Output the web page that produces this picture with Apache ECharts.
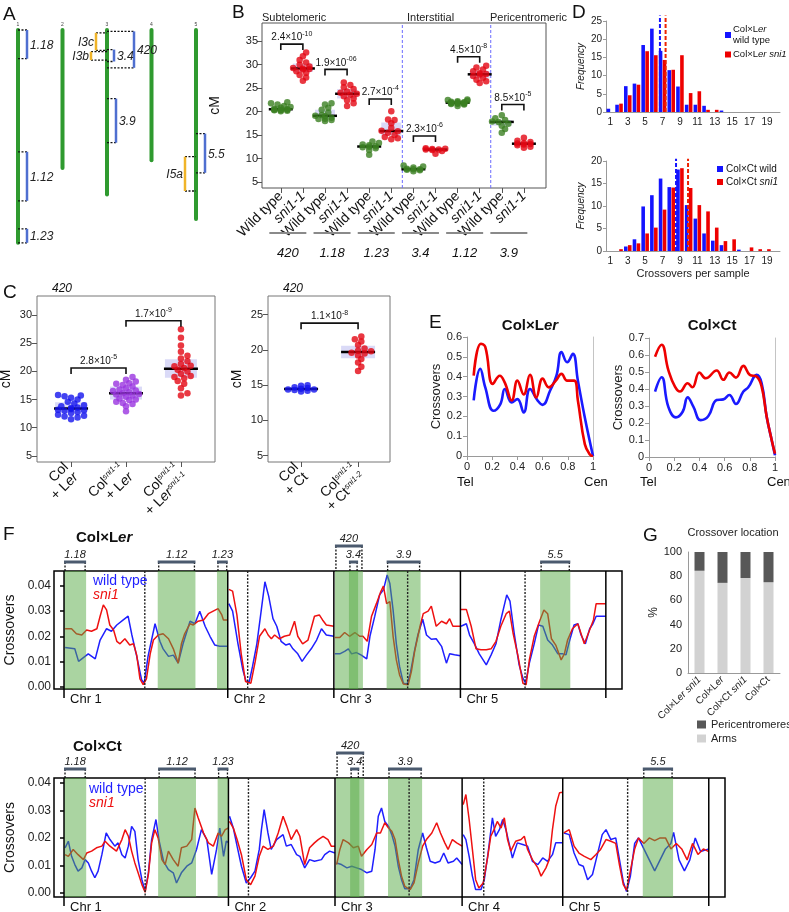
<!DOCTYPE html>
<html>
<head>
<meta charset="utf-8">
<script src="https://cdn.jsdelivr.net/npm/echarts@6.0.0/dist/echarts.min.js"></script>
<style>html,body{margin:0;padding:0;background:#fff;}#chart{width:789px;height:912px;}</style>
</head>
<body>
<div id="chart"></div>
<script>
// ================= DATA =================
const chrNames = ['1','2','3','4','5'];
const chrLengths = [30.4, 19.7, 23.5, 18.6, 27.0];
const centromeres = [15.0, 3.7, 13.7, 4.0, 12.0];
const intervalNames = ['1.18','1.12','1.23','420','3.4','3.9','5.5'];
const intervalChr = [1,1,1,3,3,3,5];
const intervalStart = [0.0,17.4,28.4,0.2,2.8,9.8,14.8];
const intervalEnd = [4.1,24.4,30.4,5.4,4.5,16.1,20.4];
const yellowNames = ['I3c','I3b','I5a'];
const yellowChr = [3,3,5];
const yellowStart = [0.4,3.1,18.1];
const yellowEnd = [2.9,4.3,23.0];

// Panel B
const bSections = ['Subtelomeric','Interstitial','Pericentromeric'];
const bGroupNames = ['420','1.18','1.23','3.4','1.12','3.9'];
const bGenotypes = ['Wild type','sni1-1'];
const bWT420 = [20.1,20.2,20.3,20.3,20.4,20.4,20.4,20.5,20.6,20.8,21.0,21.2,21.5,21.8,22.0];
const bSni420 = [26.6,27.3,27.8,28.3,28.6,29.0,29.1,29.2,29.3,29.6,30.0,30.5,31.0,31.8,32.6];
const bWT118 = [18.0,18.2,18.4,18.5,18.7,19.0,19.1,19.3,19.8,20.4,20.8,21.5,21.8];
const bSni118 = [21.2,21.8,22.4,22.8,23.3,23.6,23.8,24.0,24.3,24.8,25.2,25.7,26.2];
const bWT123 = [10.8,11.8,12.2,12.4,12.5,12.6,12.8,13.0,13.3,13.6];
const bSni123 = [14.1,14.3,14.6,15.0,15.5,15.8,15.9,16.5,17.5,18.2,18.3,20.1];
const bWT34 = [7.3,7.5,7.6,7.7,7.7,7.8,8.1,8.3,8.5];
const bSni34 = [11.0,11.6,11.8,11.9,11.9,12.0,12.1,12.2];
const bWT112 = [21.2,21.5,21.6,21.7,21.7,21.8,21.8,21.9,21.9,22.0,22.0,22.1,22.2,22.3,22.5,22.6];
const bSni112 = [26.1,26.5,26.8,27.2,27.6,27.9,28.0,28.2,28.6,29.0,29.4,29.8];
const bWT39 = [15.5,16.3,17.0,17.4,17.8,17.9,18.2,18.6,19.2];
const bSni39 = [12.3,12.5,12.8,13.0,13.1,13.2,13.3,13.5,13.8,14.4];
const bPairA = [1,3,5,7,9,11];
const bPairB = [2,4,6,8,10,12];
const bBracketY = [34.4,29.0,22.7,14.8,31.7,21.5];
const bPMant = ['2.4','1.9','2.7','2.3','4.5','8.5'];
const bPExp = ['-10','-06','-4','-6','-8','-5'];
const bDividers = [6.5, 10.5];

// Panel C
const cLerLabels = ['{n|Col}\n{n|+ L}{ni|er}','{n|Col}{s|sni1-1}\n{n|+ L}{ni|er}','{n|Col}{s|sni1-1}\n{n|+ L}{ni|er}{s|sni1-1}'];
const cLerWT = [11.5,11.8,12.0,12.1,12.3,12.6,12.8,13.0,13.1,13.2,13.3,13.5,13.6,13.8,14.0,14.3,14.6,15.0,15.3,15.6,15.7,15.8];
const cLerHet = [12.9,13.8,14.2,14.4,14.6,14.9,15.0,15.2,15.5,15.7,15.9,16.0,16.1,16.3,16.5,16.6,16.8,17.0,17.3,17.6,17.8,17.9,18.2,18.5,19.0];
const cLerHom = [15.7,16.1,17.0,17.8,18.3,18.8,19.0,19.2,19.6,20.0,20.3,20.6,20.9,21.0,21.3,21.8,22.3,22.8,23.5,24.6,26.0,27.5];
const cLerPairA = [1,2], cLerPairB = [2,3], cLerBracketY = [20.6,29.0];
const cLerPMant = ['2.8','1.7'], cLerPExp = ['-5','-9'];
const cCtLabels = ['{n|Col}\n{n|+ Ct}','{n|Col}{s|sni1-1}\n{n|+ Ct}{s|sni1-2}'];
const cCtWT = [14.1,14.2,14.3,14.4,14.4,14.5,14.6,14.7,14.9,15.0];
const cCtMut = [17.0,17.6,18.2,18.7,19.2,19.5,19.6,19.8,19.9,20.2,20.7,21.2,21.5,21.9];
const cCtPairA = [1], cCtPairB = [2], cCtBracketY = [23.8];
const cCtPMant = ['1.1'], cCtPExp = ['-8'];

// Panel D
const dBins = ['1','2','3','4','5','6','7','8','9','10','11','12','13','14','15','16','17','18','19','20'];
const dLerWT = [0.9,2.0,7.1,7.8,18.4,22.9,16.8,11.5,7.0,2.0,2.0,1.7,0,0.4,0,0,0,0,0,0];
const dLerSni = [0,2.3,4.6,7.5,16.7,15.6,14.3,11.6,15.6,5.2,5.7,0.6,0.6,0,0,0,0,0,0,0];
const dLerMeans = [6.7, 7.35];
const dCtWT = [0,0,1.0,2.6,9.9,12.4,16.1,14.2,18.1,10.2,7.2,3.9,2.3,1.3,0,0.3,0,0,0,0];
const dCtSni = [0,0.4,1.3,1.7,3.9,5.2,9.2,14.1,18.4,14.0,10.2,8.8,5.2,2.2,2.6,0,0.8,0.4,0.4,0];
const dCtMeans = [8.55, 9.93];

// Panel E
const eLerWT = [[0.053,0.28],[0.105,0.44],[0.145,0.346],[0.21,0.228],[0.265,0.262],[0.30,0.338],[0.355,0.27],[0.40,0.287],[0.45,0.22],[0.50,0.338],[0.56,0.28],[0.60,0.258],[0.66,0.33],[0.71,0.405],[0.75,0.524],[0.795,0.473],[0.84,0.515],[0.88,0.38],[0.935,0.194],[1,0]];
const eLerSni = [[0.053,0.405],[0.11,0.566],[0.145,0.55],[0.205,0.363],[0.26,0.405],[0.30,0.37],[0.355,0.28],[0.40,0.38],[0.45,0.31],[0.50,0.41],[0.55,0.295],[0.60,0.39],[0.65,0.346],[0.705,0.38],[0.75,0.414],[0.795,0.38],[0.85,0.38],[0.88,0.28],[0.935,0.06],[0.975,0.008],[1,0]];
const eCtWT = [[0.048,0.385],[0.10,0.469],[0.153,0.296],[0.214,0.233],[0.267,0.266],[0.307,0.351],[0.352,0.296],[0.41,0.217],[0.47,0.24],[0.537,0.335],[0.59,0.339],[0.638,0.365],[0.69,0.312],[0.749,0.385],[0.788,0.41],[0.854,0.483],[0.894,0.434],[0.934,0.237],[0.974,0.099],[1,0.01]];
const eCtSni = [[0.048,0.59],[0.10,0.66],[0.153,0.513],[0.206,0.414],[0.246,0.385],[0.307,0.434],[0.344,0.41],[0.40,0.497],[0.45,0.463],[0.537,0.509],[0.59,0.454],[0.638,0.497],[0.69,0.467],[0.749,0.536],[0.80,0.483],[0.854,0.473],[0.894,0.414],[0.934,0.237],[0.974,0.099],[1,0.02]];

// Panel F
const fTopChrs = [1,2,3,5];
const fBotChrs = [1,2,3,4,5];
const fLerWT1 = [[0.2,.0155],[2.0,.015],[2.7,.010],[3.9,.012],[4.5,.013],[5.8,.011],[6.7,.0185],[7.9,.023],[8.8,.022],[9.8,.0245],[11.0,.0265],[11.9,.028],[12.6,.0205],[13.5,.012],[14.4,.0027],[14.9,.0013],[15.6,.012],[16.9,.025],[17.8,.018],[18.4,.015],[19.4,.012],[20.3,.0125],[21.2,.0093],[22.1,.017],[23.4,.026],[24.3,.025],[25.2,.030],[26.2,.024],[27.1,.020],[28.0,.0165],[28.9,.016],[30.4,.016]];
const fLerSn1 = [[0.2,.023],[1.4,.023],[2.3,.021],[3.3,.0205],[4.2,.0225],[5.1,.022],[6.1,.023],[6.7,.028],[7.3,.0325],[7.9,.0305],[8.5,.0245],[9.2,.0225],[9.8,.018],[10.4,.017],[11.3,.019],[12.2,.0165],[12.9,.017],[13.5,.0125],[14.1,.003],[14.7,.0007],[15.3,.003],[16.0,.013],[16.6,.0185],[17.5,.0205],[18.4,.021],[19.4,.019],[20.3,.015],[21.2,.0093],[21.8,.017],[22.4,.021],[23.4,.025],[24.0,.0245],[24.9,.026],[25.9,.0265],[26.8,.029],[27.7,.030],[28.6,.031],[29.3,.0285],[29.6,.0265],[30.4,.0265]];
const fLerWT2 = [[0.2,.033],[0.9,.030],[1.9,.017],[2.8,.0066],[3.4,.002],[4.0,.002],[4.6,.008],[5.4,.017],[6.2,.030],[6.9,.0417],[7.6,.036],[8.4,.027],[9.1,.024],[9.9,.018],[10.8,.0165],[11.5,.017],[12.1,.015],[13.0,.013],[13.8,.010],[14.6,.0125],[15.5,.015],[16.5,.0185],[17.4,.023],[18.3,.0205],[19.7,.020]];
const fLerSn2 = [[0.2,.0387],[0.9,.038],[1.7,.0285],[2.5,.013],[3.3,.002],[4.3,.0013],[5.1,.010],[5.9,.020],[6.9,.023],[7.5,.0205],[8.1,.019],[8.7,.0205],[9.6,.019],[10.5,.020],[11.5,.0205],[12.4,.026],[13.0,.020],[13.9,.017],[14.9,.0185],[16.1,.028],[17.0,.0285],[17.6,.0265],[18.3,.0245],[19.7,.024]];
const fLerWT3 = [[0.2,.013],[1.1,.013],[2.0,.014],[2.7,.015],[3.3,.013],[4.2,.0135],[5.1,.0125],[6.1,.011],[6.7,.020],[7.6,.028],[8.5,.0365],[9.2,.0385],[9.9,.0444],[10.4,.041],[11.0,.0305],[11.6,.017],[12.2,.008],[12.9,.0013],[13.6,.001],[14.2,.0053],[15.0,.0145],[15.6,.0205],[16.5,.0268],[17.2,.0205],[18.1,.0188],[19.0,.019],[20.0,.016],[20.9,.0093],[21.5,.013],[22.4,.0126],[23.5,.0122]];
const fLerSn3 = [[0.2,.0195],[1.1,.0195],[2.0,.0215],[2.9,.020],[3.9,.0215],[4.8,.020],[5.4,.020],[6.2,.018],[7.0,.028],[7.9,.033],[8.7,.0377],[9.2,.040],[9.8,.033],[10.4,.0338],[11.0,.020],[11.6,.0106],[12.2,.0046],[12.9,.001],[13.8,.0007],[14.4,.006],[15.0,.014],[16.0,.024],[16.6,.029],[17.5,.030],[18.1,.032],[19.0,.024],[20.0,.026],[20.9,.025],[21.5,.027],[22.1,.024],[23.5,.024]];
const fLerWT5 = [[0.1,.024],[1.1,.025],[1.7,.0205],[2.6,.017],[3.5,.013],[4.8,.0086],[5.7,.0126],[6.6,.017],[7.5,.0265],[8.6,.0365],[9.2,.034],[10.0,.021],[10.9,.0086],[11.6,.0033],[12.1,.0013],[12.8,.0093],[13.7,.017],[14.5,.0245],[15.3,.024],[16.2,.0185],[17.1,.0165],[18.1,.013],[19.0,.013],[19.6,.0126],[20.3,.0185],[21.1,.0245],[21.8,.025],[22.4,.0205],[23.2,.017],[24.0,.023],[24.6,.025],[25.2,.028],[27.0,.028]];
const fLerSn5 = [[0.1,.0307],[1.1,.0307],[2.0,.024],[2.9,.015],[3.8,.0146],[4.8,.0146],[5.7,.015],[6.6,.018],[7.5,.024],[8.5,.029],[9.1,.030],[9.8,.021],[10.7,.012],[11.6,.0013],[12.2,.0007],[12.8,.0106],[13.7,.020],[14.7,.026],[15.5,.0305],[16.2,.029],[16.9,.019],[17.7,.0165],[18.7,.0106],[19.3,.013],[19.9,.0185],[20.8,.023],[21.8,.025],[23.0,.017],[23.9,.022],[24.7,.0265],[25.2,.033],[27.0,.033]];
const fCtWT1 = [[0.2,.0164],[0.8,.0188],[1.4,.0133],[2.0,.0103],[2.6,.0079],[3.3,.0091],[3.9,.0121],[4.5,.0109],[5.1,.0079],[5.7,.0055],[6.3,.0079],[7.0,.0139],[7.8,.0218],[8.5,.0194],[9.4,.017],[10.0,.0182],[10.7,.0139],[11.3,.0127],[11.9,.017],[12.5,.0242],[13.1,.0224],[13.7,.0121],[14.4,.0048],[15.0,.0006],[15.6,.0073],[16.2,.0194],[17.0,.0267],[17.6,.0188],[18.4,.0115],[19.3,.0085],[20.2,.0073],[20.8,.0036],[21.7,.0073],[22.7,.0097],[23.6,.0109],[24.5,.0158],[25.4,.023],[26.4,.0194],[27.3,.0067],[28.2,.0158],[28.8,.0236],[29.5,.0133],[30.0,.0188],[30.4,.0184]];
const fCtSn1 = [[0.2,.0139],[0.8,.0133],[1.7,.0158],[2.6,.0139],[3.6,.0121],[4.2,.0145],[5.1,.0152],[6.0,.0164],[7.0,.017],[7.6,.0188],[8.5,.017],[9.7,.0152],[10.7,.0194],[11.3,.023],[11.9,.0206],[12.5,.0152],[13.1,.0109],[13.7,.0073],[14.4,.003],[15.0,.0002],[15.6,.0067],[16.2,.0182],[16.8,.023],[17.4,.020],[18.1,.0121],[18.7,.0103],[19.3,.0152],[20.2,.0121],[21.1,.0097],[21.7,.0164],[22.7,.017],[23.6,.0194],[24.2,.0309],[24.8,.0273],[25.8,.0218],[26.7,.0182],[27.6,.017],[28.5,.0218],[29.1,.0206],[29.8,.023],[30.4,.0236]];
const fCtWT2 = [[0.2,.0279],[0.9,.0236],[1.6,.017],[2.4,.0097],[3.3,.0036],[4.1,.0055],[4.9,.0079],[5.7,.0158],[6.1,.023],[6.6,.0303],[7.3,.0218],[7.9,.0158],[8.9,.0194],[10.1,.0212],[10.7,.017],[11.6,.0176],[12.6,.0139],[13.2,.0133],[14.1,.0091],[15.0,.0121],[15.9,.0115],[17.2,.0121],[17.8,.0139],[18.7,.0152],[19.7,.0145]];
const fCtSn2 = [[0.2,.026],[0.9,.0236],[1.6,.0194],[2.4,.0139],[3.3,.0048],[4.1,.003],[4.9,.0061],[5.7,.0133],[6.4,.017],[7.3,.0158],[8.3,.017],[9.2,.0218],[10.1,.0279],[10.8,.0242],[11.6,.0194],[12.6,.023],[13.2,.0206],[14.1,.0103],[15.0,.0164],[15.9,.0182],[16.6,.0194],[17.5,.0206],[18.4,.0194],[19.0,.017],[19.7,.017]];
const fCtWT3 = [[0.3,.0109],[1.2,.0103],[2.2,.0091],[3.1,.0097],[4.0,.0091],[4.9,.0085],[5.9,.0073],[6.8,.0079],[7.4,.0158],[8.0,.0279],[8.6,.0309],[9.2,.026],[9.9,.0242],[10.5,.0212],[11.1,.017],[11.7,.0097],[12.3,.0048],[12.9,.0015],[13.9,.0015],[14.6,.0048],[15.4,.0158],[16.2,.0218],[16.9,.0164],[17.6,.0115],[18.5,.0109],[19.4,.0115],[20.1,.0145],[20.9,.0109],[21.9,.0115],[22.5,.0127],[23.5,.0103]];
const fCtSn3 = [[0.3,.0103],[0.9,.0158],[1.5,.0194],[2.5,.0182],[3.4,.0164],[4.3,.017],[4.9,.0133],[5.9,.0158],[6.8,.0176],[7.7,.0218],[8.4,.0218],[9.2,.0255],[9.9,.0236],[10.5,.0224],[11.1,.0194],[11.7,.0121],[12.3,.0061],[12.9,.0024],[13.9,.0012],[14.6,.0036],[15.4,.0109],[16.2,.017],[16.9,.0194],[17.9,.0218],[18.8,.0255],[19.5,.0218],[20.3,.0182],[20.9,.0158],[21.7,.0194],[22.5,.0182],[23.5,.017]];
const fCtWT4 = [[0.2,.0212],[0.7,.0194],[1.3,.0133],[1.9,.0061],[2.5,.0012],[3.5,.0012],[4.1,.0048],[4.8,.0145],[5.6,.0273],[6.2,.0206],[6.9,.023],[7.5,.0267],[8.1,.023],[8.8,.017],[9.3,.0127],[10.2,.0182],[11.2,.0176],[12.1,.017],[13.0,.0115],[14.0,.0103],[14.9,.0127],[15.8,.0115],[16.7,.0139],[17.3,.0182],[18.6,.0182]];
const fCtSn4 = [[0.2,.0321],[0.7,.0358],[1.3,.0267],[1.9,.0158],[2.5,.0048],[3.1,.0018],[3.9,.0036],[4.7,.0127],[5.3,.0206],[5.9,.023],[6.5,.026],[7.2,.0236],[7.8,.0273],[8.4,.0194],[9.0,.0152],[9.9,.0188],[10.9,.0194],[11.5,.0206],[12.1,.0158],[13.0,.0121],[14.0,.0091],[14.6,.0061],[15.5,.0091],[16.1,.0121],[16.7,.023],[17.3,.0315],[18.0,.0364],[18.6,.0366]];
const fCtWT5 = [[0.2,.0218],[1.2,.0212],[2.1,.0145],[3.0,.0103],[3.8,.0097],[4.6,.0048],[5.5,.0067],[6.4,.0139],[7.3,.0212],[8.0,.023],[8.9,.0194],[9.8,.020],[10.5,.012],[11.2,.004],[11.8,.0005],[12.5,.006],[13.3,.018],[14.0,.020],[15.0,.016],[16.0,.012],[17.0,.008],[18.0,.012],[19.0,.016],[20.0,.018],[20.5,.022],[21.5,.012],[22.5,.008],[23.5,.012],[24.5,.020],[25.5,.015],[27.0,.016]];
const fCtSn5 = [[0.2,.0218],[1.2,.023],[2.1,.017],[3.0,.0145],[4.0,.0133],[5.2,.0121],[6.1,.0139],[7.0,.0158],[8.0,.0194],[8.9,.0188],[9.8,.018],[10.5,.010],[11.2,.003],[11.8,.001],[12.5,.008],[13.3,.016],[14.0,.020],[15.0,.018],[16.0,.020],[17.0,.019],[18.0,.020],[19.0,.020],[20.0,.016],[21.0,.018],[22.0,.016],[23.0,.012],[24.0,.018],[25.0,.014],[26.0,.016],[27.0,.015]];

// Panel G
const gCats = ['Col×Ler sni1','Col×Ler','Col×Ct sni1','Col×Ct'];
const gArms = [84.5, 74.5, 78.5, 75.0];
const gPeri = [15.5, 25.5, 21.5, 25.0];

// ================= LAYOUT / HELPERS =================
const FONT = '"Liberation Sans", Arial, Helvetica, sans-serif';
const gA  = {left:18,  top:30,  w:178, h:217, xmin:1, xmax:5, ymin:0, ymax:31};
const gB  = {left:262, top:23,  w:284, h:165, xmin:0.15, xmax:13, ymin:3.7, ymax:38.9};
const gCL = {left:37,  top:296, w:178, h:166, xmin:0.38, xmax:3.62, ymin:3.9, ymax:33.4};
const gCR = {left:268, top:296, w:122, h:166, xmin:0.42, xmax:2.56, ymin:4.1, ymax:27.65};
const gFT = {left:54,  top:571, w:568, h:118, xmin:-1.86, xmax:103.6, ymin:-0.001, ymax:0.046};
const gFB = {left:54,  top:778, w:671, h:119, xmin:-1.85, xmax:122.2, ymin:-0.0015, ymax:0.0418};

function quant(arr,q){const s=[...arr].sort((a,b)=>a-b);const p=(s.length-1)*q;const lo=Math.floor(p),hi=Math.ceil(p);return s[lo]+(s[hi]-s[lo])*(p-lo);}
function swarm(vals,cx,g,d,maxOff){
  const px=g.w/(g.xmax-g.xmin), py=g.h/(g.ymax-g.ymin);
  const s=[...vals].sort((a,b)=>a-b); const placed=[]; const out=[];
  const lim=d*0.7;
  for(const v of s){
    const y=v*py; let best=0, bestCnt=1e9;
    for(let k=0;k<40;k++){
      const cand = k===0?0:((k%2)?1:-1)*Math.ceil(k/2)*d*0.5;
      if(Math.abs(cand)>maxOff) break;
      let cnt=0;
      for(const p of placed){const dx=p[0]-cand,dy=p[1]-y; if(dx*dx+dy*dy<lim*lim)cnt++;}
      if(cnt<bestCnt){bestCnt=cnt;best=cand;}
      if(cnt===0)break;
    }
    placed.push([best,y]); out.push([cx+best/px, v]);
  }
  return out;
}
function chrOffsets(list){const o={};let acc=0;for(const c of list){o[c]=acc;acc+=chrLengths[c-1];}o.end=acc;return o;}
function containsOther(i){return intervalChr.some((c,j)=>j!==i&&c===intervalChr[i]&&intervalStart[j]>=intervalStart[i]&&intervalEnd[j]<=intervalEnd[i]);}
function containedBy(i){return intervalChr.some((c,j)=>j!==i&&c===intervalChr[i]&&intervalStart[i]>=intervalStart[j]&&intervalEnd[i]<=intervalEnd[j]);}
function ital(name){return name.replace('Ler','L{i|er}').replace('sni1','{i|sni1}');}
function txt(x,y,text,size,extra){return {type:'text',x:x,y:y,z:100,silent:true,style:Object.assign({text:text,fontSize:size,fontFamily:FONT,fill:'#111',align:'left',verticalAlign:'top'},extra||{})};}
const supRich = {m:{fontSize:10,fontFamily:FONT,lineHeight:15,fill:'#111'}, s:{fontSize:7,fontFamily:FONT,lineHeight:8,verticalAlign:'top',fill:'#111'}};
function gridOf(g,extra){return Object.assign({left:g.left,top:g.top,width:g.w,height:g.h,outerBoundsMode:'none',containLabel:false},extra||{});}

// ================= SERIES =================
const series = [];
// ---- Panel A ----
series.push({type:'custom',xAxisIndex:0,yAxisIndex:0,clip:false,silent:true,z:3,
  data: chrLengths.map((L,i)=>[i+1,L]),
  renderItem:(p,api)=>{const x=api.value(0),L=api.value(1);const a=api.coord([x,0]),b=api.coord([x,L]);
    return {type:'group',children:[
      {type:'line',shape:{x1:a[0],y1:a[1],x2:b[0],y2:b[1]},style:{stroke:'#2f9a2f',lineWidth:4,lineCap:'round'}},
      {type:'text',x:a[0],y:a[1]-3,style:{text:chrNames[p.dataIndex],fontSize:5,fontFamily:FONT,fill:'#444',align:'center',verticalAlign:'bottom'}}]};}});
series.push({type:'custom',xAxisIndex:0,yAxisIndex:0,clip:false,silent:true,z:4,
  data: intervalNames.map((n,i)=>[intervalChr[i],intervalStart[i]]),
  renderItem:(p,api)=>{const i=p.dataIndex;const c=intervalChr[i];
    const s=api.coord([c,intervalStart[i]]),e=api.coord([c,intervalEnd[i]]);
    const off = containsOther(i)?27:(containedBy(i)?7:9); const bx=s[0]+off;
    const dot={stroke:'#111',lineWidth:1.3,lineDash:[2,1.5]};
    return {type:'group',children:[
      {type:'line',shape:{x1:s[0],y1:s[1],x2:bx,y2:s[1]},style:dot},
      {type:'line',shape:{x1:s[0],y1:e[1],x2:bx,y2:e[1]},style:dot},
      {type:'line',shape:{x1:bx,y1:s[1],x2:bx,y2:e[1]},style:{stroke:'#4f6fd0',lineWidth:2.5}},
      {type:'text',x:bx+3,y:(s[1]+e[1])/2+1,style:{text:intervalNames[i],fontSize:12,fontStyle:'italic',fontFamily:FONT,fill:'#222',align:'left',verticalAlign:'middle'}}]};}});
series.push({type:'custom',xAxisIndex:0,yAxisIndex:0,clip:false,silent:true,z:4,
  data: yellowNames.map((n,i)=>[yellowChr[i],yellowStart[i]]),
  renderItem:(p,api)=>{const i=p.dataIndex;const c=yellowChr[i];
    const k=yellowChr.slice(0,i).filter(v=>v===c).length;
    const s=api.coord([c,yellowStart[i]]),e=api.coord([c,yellowEnd[i]]);
    const bx=s[0]-11-5*k; const dot={stroke:'#111',lineWidth:1.3,lineDash:[2,1.5]};
    return {type:'group',children:[
      {type:'line',shape:{x1:bx,y1:s[1],x2:s[0],y2:s[1]},style:dot},
      {type:'line',shape:{x1:bx,y1:e[1],x2:s[0],y2:e[1]},style:dot},
      {type:'line',shape:{x1:bx,y1:s[1],x2:bx,y2:e[1]},style:{stroke:'#f0b429',lineWidth:2.5}},
      {type:'text',x:bx-2,y:(s[1]+e[1])/2+1,style:{text:yellowNames[i],fontSize:12,fontStyle:'italic',fontFamily:FONT,fill:'#222',align:'right',verticalAlign:'middle'}}]};}});

function boxSeries(xi,yi,stats,halfBox,halfMed,z){
  return [{type:'custom',xAxisIndex:xi,yAxisIndex:yi,silent:true,z:z,data:stats,
    renderItem:(p,api)=>{const c=api.value(0);const a=api.coord([c,api.value(3)]),b=api.coord([c,api.value(1)]);
      return {type:'rect',shape:{x:a[0]-halfBox,y:a[1],width:2*halfBox,height:b[1]-a[1]},style:{fill:'rgba(205,205,244,0.75)'}};}},
   {type:'custom',xAxisIndex:xi,yAxisIndex:yi,silent:true,z:z+3,data:stats,
    renderItem:(p,api)=>{const m=api.coord([api.value(0),api.value(2)]);
      return {type:'line',shape:{x1:m[0]-halfMed,y1:m[1],x2:m[0]+halfMed,y2:m[1]},style:{stroke:'#000',lineWidth:2.5}};}}];
}
function bracketSeries(xi,yi,pa,pb,py,mant,expo){
  return {type:'custom',xAxisIndex:xi,yAxisIndex:yi,clip:false,silent:true,z:8,
    data: py.map((y,i)=>[pa[i],y]),
    renderItem:(p,api)=>{const i=p.dataIndex;const a=api.coord([pa[i],py[i]]),b=api.coord([pb[i],py[i]]);
      return {type:'group',children:[
        {type:'polyline',shape:{points:[[a[0],a[1]+6],[a[0],a[1]],[b[0],b[1]],[b[0],b[1]+6]]},style:{stroke:'#111',lineWidth:1.6,fill:'none'}},
        {type:'text',x:(a[0]+b[0])/2,y:a[1]+1,style:{text:'{m|'+mant[i]+'×10}{s|'+expo[i]+'}',rich:supRich,align:'center',verticalAlign:'bottom'}}]};}};
}
function dots(xi,yi,data,color,size){return {type:'scatter',xAxisIndex:xi,yAxisIndex:yi,data:data,symbolSize:size,itemStyle:{color:color},silent:true,z:5};}

// ---- Panel B ----
const bAll = [bWT420,bSni420,bWT118,bSni118,bWT123,bSni123,bWT34,bSni34,bWT112,bSni112,bWT39,bSni39];
const bGreen=[], bRed=[], bStats=[];
bAll.forEach((vals,i)=>{const pts=swarm(vals,i+1,gB,6.5,12);(i%2===0?bGreen:bRed).push(...pts);bStats.push([i+1,quant(vals,.25),quant(vals,.5),quant(vals,.75)]);});
series.push(...boxSeries(1,1,bStats,10,12,2));
series.push(dots(1,1,bGreen,'#3b7f22',6.5), dots(1,1,bRed,'#e30613',6.5));
series.push(bracketSeries(1,1,bPairA,bPairB,bBracketY,bPMant,bPExp));
series.push({type:'custom',xAxisIndex:1,yAxisIndex:1,silent:true,z:1,data:bDividers.map(v=>[v,gB.ymin]),
  renderItem:(p,api)=>{const a=api.coord([api.value(0),gB.ymin]),b=api.coord([api.value(0),gB.ymax]);
    return {type:'line',shape:{x1:a[0],y1:a[1],x2:b[0],y2:b[1]},style:{stroke:'#6b6bff',lineWidth:1,lineDash:[3,2]}};}});
series.push({type:'custom',xAxisIndex:1,yAxisIndex:1,clip:false,silent:true,z:1,
  data: bGroupNames.map((n,i)=>[bPairA[i],gB.ymin]),
  renderItem:(p,api)=>{const i=p.dataIndex;const a=api.coord([bPairA[i],gB.ymin]),b=api.coord([bPairB[i],gB.ymin]);
    const cx=(a[0]+b[0])/2-4, y=a[1]+45;
    return {type:'group',children:[
      {type:'line',shape:{x1:cx-18.5,y1:y,x2:cx+18.5,y2:y},style:{stroke:'#8a8a8a',lineWidth:2}},
      {type:'text',x:cx,y:y+20,style:{text:bGroupNames[i],fontSize:13,fontStyle:'italic',fontFamily:FONT,fill:'#111',align:'center',verticalAlign:'middle'}}]};}});

// ---- Panel C ----
const cLGroups=[cLerWT,cLerHet,cLerHom], cLColors=['#1414ee','#9a35e0','#e30613'];
const cLStats=[];
cLGroups.forEach((vals,i)=>{series.push(dots(2,2,swarm(vals,i+1,gCL,6.5,16),cLColors[i],6.5));cLStats.push([i+1,quant(vals,.25),quant(vals,.5),quant(vals,.75)]);});
series.push(...boxSeries(2,2,cLStats,16,17,2));
series.push(bracketSeries(2,2,cLerPairA,cLerPairB,cLerBracketY,cLerPMant,cLerPExp));
const cRGroups=[cCtWT,cCtMut], cRColors=['#1414ee','#e30613'];
const cRStats=[];
cRGroups.forEach((vals,i)=>{series.push(dots(3,3,swarm(vals,i+1,gCR,6.5,13),cRColors[i],6.5));cRStats.push([i+1,quant(vals,.25),quant(vals,.5),quant(vals,.75)]);});
series.push(...boxSeries(3,3,cRStats,17,17,2));
series.push(bracketSeries(3,3,cCtPairA,cCtPairB,cCtBracketY,cCtPMant,cCtPExp));

// ---- Panel D ----
function dBar(name,data,xi,color){return {type:'bar',name:name,xAxisIndex:xi,yAxisIndex:xi,data:data,barWidth:3.6,barGap:'10%',itemStyle:{color:color},silent:true};}
series.push(dBar('Col×Ler wild type',dLerWT,4,'#1414ff'), dBar('Col×Ler sni1',dLerSni,4,'#ee0000'));
series.push(dBar('Col×Ct wild',dCtWT,5,'#1414ff'), dBar('Col×Ct sni1',dCtSni,5,'#ee0000'));
function meanLines(xi,yi,means,top){return {type:'custom',xAxisIndex:xi,yAxisIndex:yi,clip:false,silent:true,z:6,data:means.map(m=>[m,0]),
  renderItem:(p,api)=>{const a=api.coord([api.value(0),0]),b=api.coord([api.value(0),top]);
    return {type:'line',shape:{x1:a[0],y1:a[1],x2:b[0],y2:b[1]},style:{stroke:p.dataIndex===0?'#1414ff':'#ee2200',lineWidth:2,lineDash:[4,2]}};}};}
series.push(meanLines(11,4,dLerMeans,26.5), meanLines(12,5,dCtMeans,20.5));

// ---- Panel E ----
function eLine(data,xi,color){return {type:'line',xAxisIndex:xi,yAxisIndex:xi,data:data,smooth:0.45,showSymbol:false,symbol:'none',lineStyle:{color:color,width:2.6},silent:true,z:3};}
series.push(eLine(eLerWT,6,'#1a1aff'), eLine(eLerSni,6,'#ee0000'), eLine(eCtWT,7,'#1a1aff'), eLine(eCtSni,7,'#ee0000'));

// ---- Panel F ----
function fPanel(xi,yi,g,chrs,wt,sn){
  const off=chrOffsets(chrs);
  chrs.forEach((c,k)=>{
    series.push({type:'line',xAxisIndex:xi,yAxisIndex:yi,data:wt[k].map(p=>[p[0]+off[c],p[1]]),showSymbol:false,symbol:'none',lineStyle:{color:'#1f1fff',width:1.5},silent:true,z:2});
  });
  chrs.forEach((c,k)=>{
    series.push({type:'line',xAxisIndex:xi,yAxisIndex:yi,data:sn[k].map(p=>[p[0]+off[c],p[1]]),showSymbol:false,symbol:'none',lineStyle:{color:'#ee1111',width:1.5},silent:true,z:2});
  });
  const ivs = intervalNames.map((n,i)=>i).filter(i=>chrs.includes(intervalChr[i]));
  series.push({type:'custom',xAxisIndex:xi,yAxisIndex:yi,silent:true,z:4,data:ivs.map(i=>[off[intervalChr[i]]+intervalStart[i],0]),
    renderItem:(p,api)=>{const i=ivs[p.dataIndex];const o=off[intervalChr[i]];
      const a=api.coord([o+intervalStart[i],g.ymax]),b=api.coord([o+intervalEnd[i],g.ymin]);
      return {type:'rect',shape:{x:a[0],y:a[1],width:b[0]-a[0],height:b[1]-a[1]},style:{fill:'rgba(85,170,68,0.5)'}};}});
  series.push({type:'custom',xAxisIndex:xi,yAxisIndex:yi,clip:false,silent:true,z:6,data:ivs.map(i=>[off[intervalChr[i]]+intervalStart[i],g.ymax]),
    renderItem:(p,api)=>{const i=ivs[p.dataIndex];const o=off[intervalChr[i]];
      const a=api.coord([o+intervalStart[i],g.ymax]),b=api.coord([o+intervalEnd[i],g.ymax]);
      const by=a[1]-(containsOther(i)?25:9); const dot={stroke:'#111',lineWidth:1.3,lineDash:[2,1.5]};
      return {type:'group',children:[
        {type:'line',shape:{x1:a[0]+1,y1:by,x2:a[0]+1,y2:a[1]},style:dot},
        {type:'line',shape:{x1:b[0]-1,y1:by,x2:b[0]-1,y2:a[1]},style:dot},
        {type:'line',shape:{x1:a[0],y1:by,x2:b[0],y2:by},style:{stroke:'#4b5a6e',lineWidth:3}},
        {type:'text',x:(a[0]+b[0])/2,y:by-2,style:{text:intervalNames[i],fontSize:11,fontStyle:'italic',fontFamily:FONT,fill:'#222',align:'center',verticalAlign:'bottom'}}]};}});
  series.push({type:'custom',xAxisIndex:xi,yAxisIndex:yi,silent:true,z:6,data:chrs.map(c=>[off[c]+centromeres[c-1],0]),
    renderItem:(p,api)=>{const a=api.coord([api.value(0),g.ymax]),b=api.coord([api.value(0),g.ymin]);
      return {type:'line',shape:{x1:a[0],y1:a[1],x2:b[0],y2:b[1]},style:{stroke:'#222',lineWidth:1.4,lineDash:[2,1.5]}};}});
  const bounds = chrs.map(c=>off[c]).concat([off.end]);
  series.push({type:'custom',xAxisIndex:xi,yAxisIndex:yi,clip:false,silent:true,z:7,data:bounds.map(b=>[b,0]),
    renderItem:(p,api)=>{const a=api.coord([api.value(0),g.ymax]),b=api.coord([api.value(0),g.ymin]);
      const ch=[{type:'line',shape:{x1:a[0],y1:a[1],x2:b[0],y2:b[1]+9},style:{stroke:'#000',lineWidth:1.5}}];
      if(p.dataIndex<chrs.length) ch.push({type:'text',x:a[0]+6,y:b[1]+4,style:{text:'Chr '+chrNames[chrs[p.dataIndex]-1],fontSize:13,fontFamily:FONT,fill:'#111',align:'left',verticalAlign:'top'}});
      return {type:'group',children:ch};}});
}
fPanel(8,8,gFT,fTopChrs,[fLerWT1,fLerWT2,fLerWT3,fLerWT5],[fLerSn1,fLerSn2,fLerSn3,fLerSn5]);
fPanel(9,9,gFB,fBotChrs,[fCtWT1,fCtWT2,fCtWT3,fCtWT4,fCtWT5],[fCtSn1,fCtSn2,fCtSn3,fCtSn4,fCtSn5]);

// ---- Panel G ----
series.push({type:'bar',name:'Arms',xAxisIndex:10,yAxisIndex:10,stack:'g',data:gArms,barWidth:10,itemStyle:{color:'#d2d2d2'},silent:true});
series.push({type:'bar',name:'Pericentromeres',xAxisIndex:10,yAxisIndex:10,stack:'g',data:gPeri,barWidth:10,itemStyle:{color:'#585858'},silent:true});

// ================= AXES =================
const gray='#9a9a9a';
const numLbl = (sz)=>({fontSize:sz,color:'#222',fontFamily:FONT});
function range(a,b,s){const r=[];for(let v=a;v<=b+1e-9;v+=s)r.push(+v.toFixed(4));return r;}
const xAxis = [
  {gridIndex:0,type:'value',min:gA.xmin,max:gA.xmax,show:false},
  {gridIndex:1,type:'value',min:gB.xmin,max:gB.xmax,axisLine:{show:false},splitLine:{show:false},
    axisTick:{show:true,customValues:range(1,12,1),length:5,lineStyle:{color:'#555'}},
    axisLabel:{customValues:range(1,12,1),rotate:45,margin:6,fontSize:14,color:'#111',
      formatter:v=>(Math.round(v)%2===1)?bGenotypes[0]:'{i|'+bGenotypes[1]+'}',rich:{i:{fontStyle:'italic',fontSize:14,fontFamily:FONT,color:'#111'}}}},
  {gridIndex:2,type:'value',min:gCL.xmin,max:gCL.xmax,axisLine:{show:false},splitLine:{show:false},
    axisTick:{show:true,customValues:[1,2,3],length:5,lineStyle:{color:'#555'}},
    axisLabel:{customValues:[1,2,3],rotate:45,margin:8,formatter:v=>cLerLabels[Math.round(v)-1],
      rich:{n:{fontSize:14,fontFamily:FONT,color:'#111'},ni:{fontSize:14,fontStyle:'italic',fontFamily:FONT,color:'#111'},s:{fontSize:8,fontStyle:'italic',fontFamily:FONT,color:'#111',verticalAlign:'top',lineHeight:9}}}},
  {gridIndex:3,type:'value',min:gCR.xmin,max:gCR.xmax,axisLine:{show:false},splitLine:{show:false},
    axisTick:{show:true,customValues:[1,2],length:5,lineStyle:{color:'#555'}},
    axisLabel:{customValues:[1,2],rotate:45,margin:8,formatter:v=>cCtLabels[Math.round(v)-1],
      rich:{n:{fontSize:14,fontFamily:FONT,color:'#111'},s:{fontSize:8,fontStyle:'italic',fontFamily:FONT,color:'#111',verticalAlign:'top',lineHeight:9}}}},
  {gridIndex:4,type:'category',data:dBins,axisLine:{lineStyle:{color:gray}},axisTick:{interval:0,alignWithLabel:true,length:3,lineStyle:{color:gray}},
    axisLabel:Object.assign(numLbl(10),{interval:(i)=>i%2===0,margin:5}),splitLine:{show:false}},
  {gridIndex:5,type:'category',data:dBins,axisLine:{lineStyle:{color:gray}},axisTick:{interval:0,alignWithLabel:true,length:3,lineStyle:{color:gray}},
    axisLabel:Object.assign(numLbl(10),{interval:(i)=>i%2===0,margin:5}),splitLine:{show:false},
    name:'Crossovers per sample',nameLocation:'middle',nameGap:17,nameTextStyle:{fontSize:11,color:'#222',fontFamily:FONT}},
  {gridIndex:6,type:'value',min:0,max:1,interval:0.2,axisLine:{lineStyle:{color:gray}},axisTick:{length:4,lineStyle:{color:gray}},axisLabel:Object.assign(numLbl(11),{margin:5}),splitLine:{show:false}},
  {gridIndex:7,type:'value',min:0,max:1,interval:0.2,axisLine:{lineStyle:{color:gray}},axisTick:{length:4,lineStyle:{color:gray}},axisLabel:Object.assign(numLbl(11),{margin:5}),splitLine:{show:false}},
  {gridIndex:8,type:'value',min:gFT.xmin,max:gFT.xmax,show:false},
  {gridIndex:9,type:'value',min:gFB.xmin,max:gFB.xmax,show:false},
  {gridIndex:10,type:'category',data:gCats,axisLine:{lineStyle:{color:gray}},axisTick:{show:false},
    axisLabel:{rotate:45,margin:5,fontSize:10,color:'#222',fontFamily:FONT,interval:0,formatter:n=>ital(n),rich:{i:{fontStyle:'italic',fontSize:10,fontFamily:FONT,color:'#222'}}}},
  {gridIndex:4,type:'value',min:0.5,max:20.5,show:false},
  {gridIndex:5,type:'value',min:0.5,max:20.5,show:false}
];
const yAxis = [
  {gridIndex:0,type:'value',inverse:true,min:gA.ymin,max:gA.ymax,show:false},
  {gridIndex:1,type:'value',min:gB.ymin,max:gB.ymax,axisLine:{show:false},splitLine:{show:false},
    axisTick:{show:true,customValues:range(5,35,5),length:5,lineStyle:{color:'#555'}},
    axisLabel:Object.assign(numLbl(11),{customValues:range(5,35,5),margin:4}),
    name:'cM',nameLocation:'middle',nameGap:40,nameTextStyle:{fontSize:14,color:'#111',fontFamily:FONT}},
  {gridIndex:2,type:'value',min:gCL.ymin,max:gCL.ymax,axisLine:{show:false},splitLine:{show:false},
    axisTick:{show:true,customValues:range(5,30,5),length:5,lineStyle:{color:'#555'}},
    axisLabel:Object.assign(numLbl(11),{customValues:range(5,30,5),margin:5}),
    name:'cM',nameLocation:'middle',nameGap:24,nameTextStyle:{fontSize:14,color:'#111',fontFamily:FONT}},
  {gridIndex:3,type:'value',min:gCR.ymin,max:gCR.ymax,axisLine:{show:false},splitLine:{show:false},
    axisTick:{show:true,customValues:range(5,25,5),length:5,lineStyle:{color:'#555'}},
    axisLabel:Object.assign(numLbl(11),{customValues:range(5,25,5),margin:5}),
    name:'cM',nameLocation:'middle',nameGap:24,nameTextStyle:{fontSize:14,color:'#111',fontFamily:FONT}},
  {gridIndex:4,type:'value',min:0,max:25,interval:5,axisLine:{show:true,lineStyle:{color:gray}},axisTick:{show:true,length:3,lineStyle:{color:gray}},axisLabel:Object.assign(numLbl(10),{margin:4}),splitLine:{show:false},
    name:'Frequency',nameLocation:'middle',nameGap:20,nameTextStyle:{fontSize:10,color:'#222',fontFamily:FONT,fontStyle:'italic'}},
  {gridIndex:5,type:'value',min:0,max:20,interval:5,axisLine:{show:true,lineStyle:{color:gray}},axisTick:{show:true,length:3,lineStyle:{color:gray}},axisLabel:Object.assign(numLbl(10),{margin:4}),splitLine:{show:false},
    name:'Frequency',nameLocation:'middle',nameGap:20,nameTextStyle:{fontSize:10,color:'#222',fontFamily:FONT,fontStyle:'italic'}},
  {gridIndex:6,type:'value',min:0,max:0.6,interval:0.1,axisLine:{show:true,lineStyle:{color:gray}},axisTick:{show:true,length:4,lineStyle:{color:gray}},axisLabel:Object.assign(numLbl(11),{margin:5}),splitLine:{show:false},
    name:'Crossovers',nameLocation:'middle',nameGap:24,nameTextStyle:{fontSize:13,color:'#222',fontFamily:FONT}},
  {gridIndex:7,type:'value',min:0,max:0.7,interval:0.1,axisLine:{show:true,lineStyle:{color:gray}},axisTick:{show:true,length:4,lineStyle:{color:gray}},axisLabel:Object.assign(numLbl(11),{margin:5}),splitLine:{show:false},
    name:'Crossovers',nameLocation:'middle',nameGap:24,nameTextStyle:{fontSize:13,color:'#222',fontFamily:FONT}},
  {gridIndex:8,type:'value',min:gFT.ymin,max:gFT.ymax,axisLine:{show:false},splitLine:{show:false},
    axisTick:{show:true,customValues:range(0,0.04,0.01),length:4,lineStyle:{color:'#000',width:1.5}},
    axisLabel:Object.assign(numLbl(12),{customValues:range(0,0.04,0.01),margin:3,formatter:v=>v.toFixed(2)}),
    name:'Crossovers',nameLocation:'middle',nameGap:36,nameTextStyle:{fontSize:14,color:'#111',fontFamily:FONT}},
  {gridIndex:9,type:'value',min:gFB.ymin,max:gFB.ymax,axisLine:{show:false},splitLine:{show:false},
    axisTick:{show:true,customValues:range(0,0.04,0.01),length:4,lineStyle:{color:'#000',width:1.5}},
    axisLabel:Object.assign(numLbl(12),{customValues:range(0,0.04,0.01),margin:3,formatter:v=>v.toFixed(2)}),
    name:'Crossovers',nameLocation:'middle',nameGap:36,nameTextStyle:{fontSize:14,color:'#111',fontFamily:FONT}},
  {gridIndex:10,type:'value',min:0,max:100,interval:20,axisLine:{show:true,lineStyle:{color:gray}},axisTick:{show:false},axisLabel:Object.assign(numLbl(11),{margin:6}),splitLine:{show:false},
    name:'%',nameLocation:'middle',nameGap:26,nameTextStyle:{fontSize:12,color:'#222',fontFamily:FONT}},
  {gridIndex:6,type:'value',min:0,max:0.6,position:'right',axisLine:{show:true,lineStyle:{color:'#c4c4c4'}},axisTick:{show:false},axisLabel:{show:false},splitLine:{show:false}},
  {gridIndex:7,type:'value',min:0,max:0.7,position:'right',axisLine:{show:true,lineStyle:{color:'#c4c4c4'}},axisTick:{show:false},axisLabel:{show:false},splitLine:{show:false}}
];
series.push({type:'line',xAxisIndex:6,yAxisIndex:11,data:[],silent:true});
series.push({type:'line',xAxisIndex:7,yAxisIndex:12,data:[],silent:true});

const grids = [
  gridOf(gA),
  gridOf(gB,{show:true,borderColor:'#555',borderWidth:1}),
  gridOf(gCL,{show:true,borderColor:'#777',borderWidth:1}),
  gridOf(gCR,{show:true,borderColor:'#777',borderWidth:1}),
  gridOf({left:606,top:21,w:174,h:91}),
  gridOf({left:606,top:161,w:174,h:90}),
  gridOf({left:467,top:337,w:126,h:119}),
  gridOf({left:649,top:338,w:126,h:119}),
  gridOf(gFT,{show:true,borderColor:'#000',borderWidth:1.5}),
  gridOf(gFB,{show:true,borderColor:'#000',borderWidth:1.5}),
  gridOf({left:688,top:552,w:92,h:121})
];

const italRich = {i:{fontStyle:'italic',fontSize:9.5,fontFamily:FONT,color:'#111'}};
const legends = [
  {left:720,top:19,orient:'vertical',itemWidth:6,itemHeight:6,itemGap:3,icon:'rect',selectedMode:false,
   data:['Col×Ler wild type','Col×Ler sni1'],
   formatter:n=>n==='Col×Ler wild type'?'Col×L{i|er}\nwild type':ital(n),
   textStyle:{fontSize:9.5,color:'#111',fontFamily:FONT,lineHeight:11,rich:italRich,padding:[0,0,0,-3]}},
  {left:712,top:159,orient:'vertical',itemWidth:6,itemHeight:6,itemGap:3,icon:'rect',selectedMode:false,
   data:['Col×Ct wild','Col×Ct sni1'],formatter:n=>ital(n),
   textStyle:{fontSize:10,color:'#111',fontFamily:FONT,rich:{i:{fontStyle:'italic',fontSize:10,fontFamily:FONT,color:'#111'}},padding:[0,0,0,-2]}},
  {left:692,top:714,orient:'vertical',itemWidth:9,itemHeight:8,itemGap:3,icon:'rect',selectedMode:false,
   data:['Pericentromeres','Arms'],textStyle:{fontSize:11,color:'#222',fontFamily:FONT}}
];

const boldRich = {b:{fontSize:15,fontWeight:'bold',fontFamily:FONT,fill:'#111'},bi:{fontSize:15,fontWeight:'bold',fontStyle:'italic',fontFamily:FONT,fill:'#111'}};
const graphic = [
  txt(3,5,'A',19), txt(232,3,'B',19), txt(3,283,'C',19), txt(572,3,'D',19), txt(429,313,'E',19), txt(3,525,'F',19), txt(643,526,'G',19),
  txt(262,12,bSections[0],11,{fill:'#222'}), txt(407,12,bSections[1],11,{fill:'#222'}), txt(490,12,bSections[2],11,{fill:'#222'}),
  txt(52,283,'420',12,{fontStyle:'italic'}), txt(283,283,'420',12,{fontStyle:'italic'}),
  txt(530,326,'{b|Col×L}{bi|er}',15,{rich:boldRich,align:'center',verticalAlign:'middle'}),
  txt(712,326,'{b|Col×Ct}',15,{rich:boldRich,align:'center',verticalAlign:'middle'}),
  txt(457,476,'Tel',13), txt(584,476,'Cen',13), txt(640,476,'Tel',13), txt(767,476,'Cen',13),
  txt(76,530,'{b|Col×L}{bi|er}',15,{rich:boldRich}),
  txt(73,739,'{b|Col×Ct}',15,{rich:boldRich}),
  txt(93,574,'wild type',14,{fill:'#1f1fff'}), txt(93,588,'sni1',14,{fill:'#ee1111',fontStyle:'italic'}),
  txt(89,782,'wild type',14,{fill:'#1f1fff'}), txt(89,796,'sni1',14,{fill:'#ee1111',fontStyle:'italic'}),
  txt(733,527,'Crossover location',11,{align:'center',fill:'#222'})
];

const chart = echarts.init(document.getElementById('chart'),null,{renderer:'canvas',width:789,height:912});
chart.setOption({animation:false,backgroundColor:'#fff',textStyle:{fontFamily:FONT},
  grid:grids,xAxis:xAxis,yAxis:yAxis,legend:legends,graphic:graphic,series:series,tooltip:{show:false}});
</script>
</body>
</html>
